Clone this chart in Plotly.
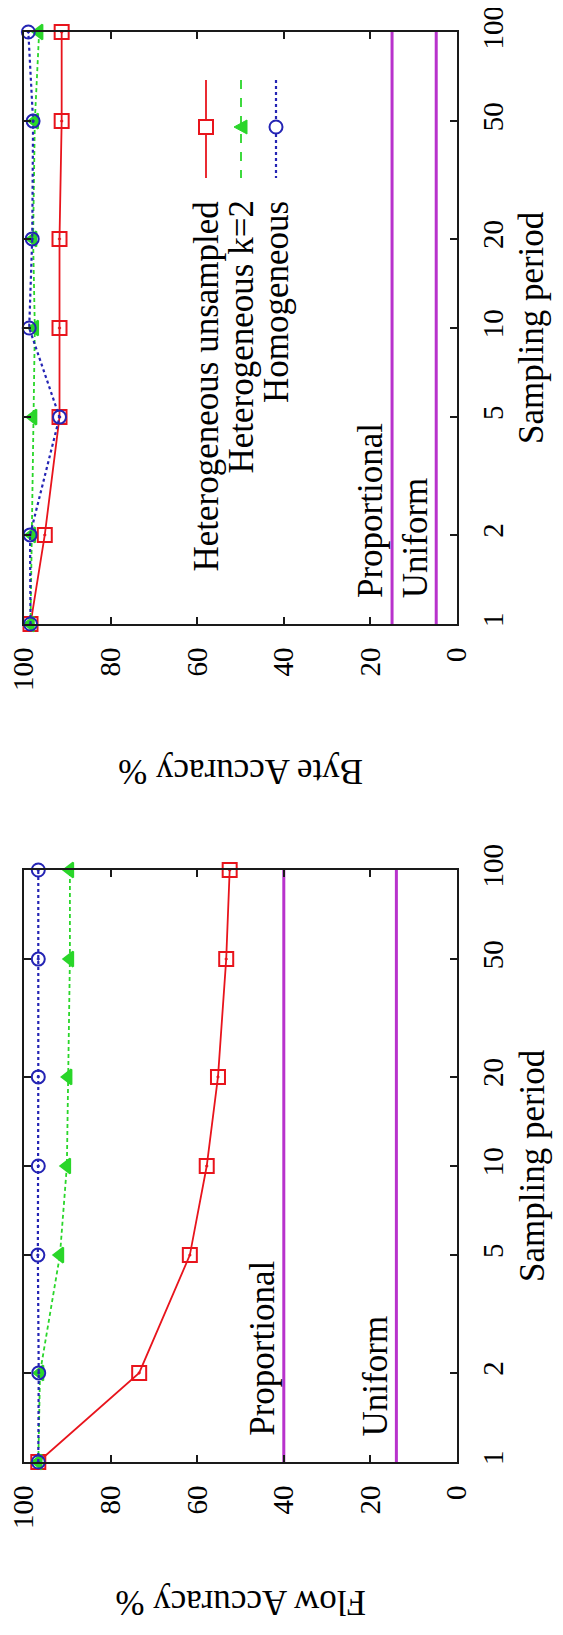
import plotly.graph_objects as go

# ---------------- data ----------------
periods = [1, 2, 5, 10, 20, 50, 100]

flow_het_unsampled = [96.7, 73.4, 61.7, 57.8, 55.2, 53.3, 52.5]
flow_het_k2 = [96.7, 96.3, 91.7, 90.1, 89.8, 89.4, 89.4]
flow_homogeneous = [96.7, 96.6, 96.8, 96.7, 96.7, 96.7, 96.7]
flow_proportional = 40.0
flow_uniform = 14.0

byte_het_unsampled = [98.5, 95.2, 91.8, 91.8, 91.8, 91.3, 91.3]
byte_het_k2 = [98.5, 98.2, 97.9, 97.5, 97.9, 97.5, 96.5]
byte_homogeneous = [98.5, 98.6, 91.8, 98.8, 98.1, 97.9, 99.0]
byte_proportional = 15.0
byte_uniform = 4.8

value_ticks = [0, 20, 40, 60, 80, 100]
period_ticks = [1, 2, 5, 10, 20, 50, 100]
series_names = ["Heterogeneous unsampled", "Heterogeneous k=2", "Homogeneous"]
ref_names = ["Proportional", "Uniform"]
value_title_top = "Byte Accuracy %"
value_title_bottom = "Flow Accuracy %"
period_title = "Sampling period"

# ---------------- style ----------------
# page is 563x1635; the html body has an 8px margin, so the figure is 16px smaller
OFF = 8
W, H = 563 - 2 * OFF, 1635 - 2 * OFF
FONT = "Liberation Serif, Times New Roman, serif"
RED = "#e8141c"
GREEN = "#2ad62a"
BLUE = "#2424b4"
MAG = "#b833cc"
AXC = "#1a1a1a"
TXT = 35

styles = [
    dict(color=RED, dash="solid", width=1.8, symbol="square-open-dot", msize=14),
    dict(color=GREEN, dash="4px,3px", width=1.8, symbol="triangle-left", msize=13),
    dict(color=BLUE, dash="dot", width=2.2, symbol="circle-open-dot", msize=13),
]

# page pixel -> paper coordinate
def px_x(p):
    return (p - OFF) / W

def px_y(p):
    return 1 - (p - OFF) / H

# plot boxes (page pixels): x 24..457 ; top y 32..624 ; bottom y 870..1462
XL, XR = 24, 457
TOP = (32, 624)
BOT = (870, 1462)

fig = go.Figure()

panels = [
    ("x", "y", [byte_het_unsampled, byte_het_k2, byte_homogeneous], byte_proportional, byte_uniform),
    ("x2", "y2", [flow_het_unsampled, flow_het_k2, flow_homogeneous], flow_proportional, flow_uniform),
]

for xa, ya, series, prop, uni in panels:
    for ref in (prop, uni):
        fig.add_trace(go.Scatter(
            x=[ref, ref], y=[periods[0], periods[-1]], mode="lines",
            line=dict(color=MAG, width=3), xaxis=xa, yaxis=ya,
            showlegend=False, hoverinfo="skip"))
    for name, vals, st in zip(series_names, series, styles):
        fig.add_trace(go.Scatter(
            x=vals, y=periods, mode="lines+markers", name=name,
            line=dict(color=st["color"], dash=st["dash"], width=st["width"]),
            marker=dict(symbol=st["symbol"], size=st["msize"], color=st["color"],
                        line=dict(color=st["color"], width=2)),
            xaxis=xa, yaxis=ya, cliponaxis=False, showlegend=False))

tickfont = dict(family=FONT, size=29, color="black")

def xaxis_cfg(y_anchor):
    return dict(
        domain=[px_x(XL), px_x(XR)], range=[100, 0], anchor=y_anchor,
        tickvals=value_ticks, ticktext=[str(v) for v in value_ticks],
        ticks="inside", ticklen=7, tickwidth=1.5, tickcolor=AXC,
        tickangle=-90, tickfont=tickfont, ticklabelstandoff=10,
        ticklabeloverflow="allow",
        showline=True, linecolor=AXC, linewidth=2, mirror="ticks",
        showgrid=False, zeroline=False, side="bottom", automargin=False)

def yaxis_cfg(box, x_anchor):
    return dict(
        domain=[px_y(box[1]), px_y(box[0])], type="log", range=[0, 2], anchor=x_anchor,
        tickvals=period_ticks, ticktext=[str(v) for v in period_ticks],
        ticks="inside", ticklen=7, tickwidth=1.5, tickcolor=AXC,
        tickangle=-90, tickfont=tickfont, ticklabelstandoff=9,
        ticklabeloverflow="allow",
        showline=True, linecolor=AXC, linewidth=2, mirror="ticks",
        showgrid=False, zeroline=False, side="right", automargin=False)

annotations = []
titlefont = dict(family=FONT, size=TXT, color="black")
for xa, ya, box, title, prop, uni, tgap in [
    ("x", "y", TOP, value_title_top, byte_proportional, byte_uniform, 148),
    ("x2", "y2", BOT, value_title_bottom, flow_proportional, flow_uniform, 141),
]:
    annotations.append(dict(
        text=title, xref="paper", yref="paper",
        x=px_x((XL + XR) / 2), y=px_y(box[1] + tgap),
        xanchor="center", yanchor="middle", textangle=180,
        showarrow=False, font=titlefont))
    annotations.append(dict(
        text=period_title, xref="paper", yref="paper",
        x=px_x(532), y=px_y((box[0] + box[1]) / 2),
        xanchor="center", yanchor="middle", textangle=-90,
        showarrow=False, font=titlefont))
    for name, ref in zip(ref_names, (prop, uni)):
        annotations.append(dict(
            text=name, xref=xa, yref=ya + " domain",
            x=ref + 4.8, y=0.04, xanchor="center", yanchor="bottom",
            textangle=-90, showarrow=False, font=titlefont))

# custom legend (rotated) inside top panel
shapes = []
leg_cols = [206, 241, 276]
for name, st, cx in zip(series_names, styles, leg_cols):
    annotations.append(dict(
        text=name, xref="paper", yref="paper",
        x=px_x(cx), y=px_y(199), xanchor="center", yanchor="top",
        textangle=-90, showarrow=False, font=titlefont))
    dash = {"solid": "solid", "dot": "dot"}.get(st["dash"], "dash")
    shapes.append(dict(type="line", xref="paper", yref="paper",
                       x0=px_x(cx), x1=px_x(cx), y0=px_y(80), y1=px_y(178),
                       line=dict(color=st["color"], width=st["width"], dash=dash)))
    my = 127
    if st["symbol"].startswith("square"):
        shapes.append(dict(type="rect", xref="paper", yref="paper",
                           x0=px_x(cx - 7), x1=px_x(cx + 7), y0=px_y(my + 7), y1=px_y(my - 7),
                           line=dict(color=st["color"], width=2), fillcolor="white"))
    elif st["symbol"].startswith("circle"):
        shapes.append(dict(type="circle", xref="paper", yref="paper",
                           x0=px_x(cx - 6.5), x1=px_x(cx + 6.5), y0=px_y(my + 6.5), y1=px_y(my - 6.5),
                           line=dict(color=st["color"], width=2), fillcolor="white"))
    else:
        shapes.append(dict(type="path", xref="paper", yref="paper",
                           path=f"M {px_x(cx-7)} {px_y(my)} L {px_x(cx+6)} {px_y(my-7)} L {px_x(cx+6)} {px_y(my+7)} Z",
                           line=dict(color=st["color"], width=1), fillcolor=st["color"]))

fig.update_layout(
    template="none",
    width=W, height=H, autosize=False,
    margin=dict(l=0, r=0, t=0, b=0, pad=0),
    paper_bgcolor="white", plot_bgcolor="white",
    showlegend=False,
    xaxis=xaxis_cfg("y"), yaxis=yaxis_cfg(TOP, "x"),
    xaxis2=xaxis_cfg("y2"), yaxis2=yaxis_cfg(BOT, "x2"),
    annotations=annotations, shapes=shapes,
    font=dict(family=FONT),
)

fig.write_html("out.html")
